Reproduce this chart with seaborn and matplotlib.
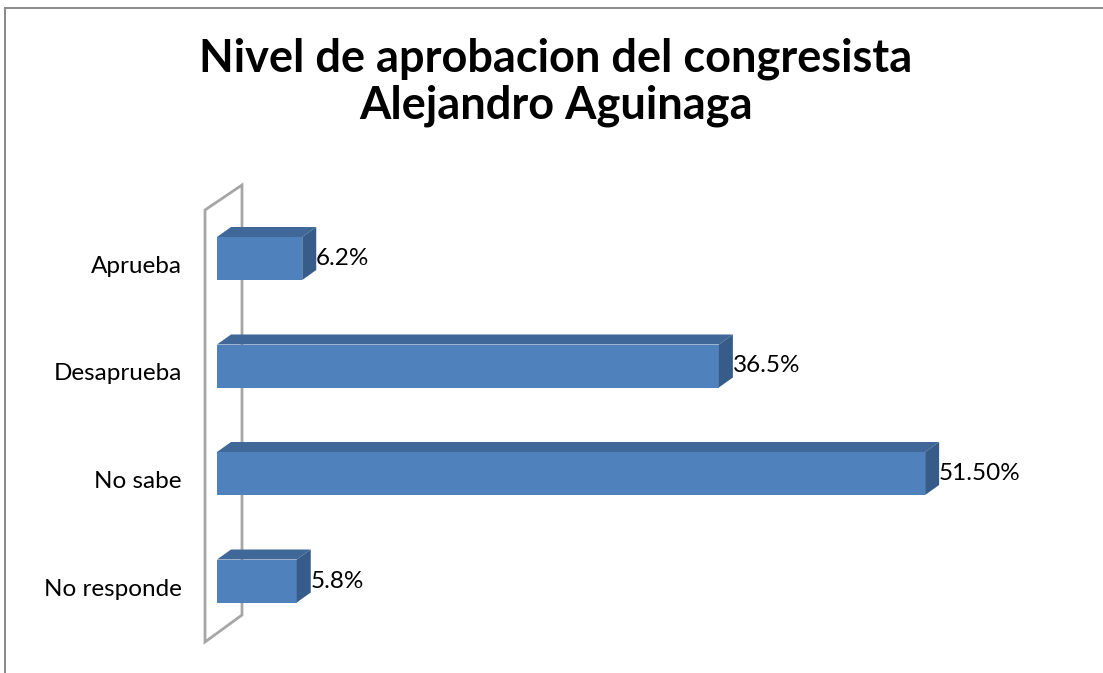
import matplotlib
matplotlib.use("Agg")
import matplotlib.pyplot as plt
import matplotlib.transforms as mtransforms
from matplotlib.patches import Polygon, Rectangle
import seaborn as sns

sns.set_theme(style="white")
plt.rcParams["font.family"] = ["Lato", "DejaVu Sans"]

CATEGORIES = ["Aprueba", "Desaprueba", "No sabe", "No responde"]
VALUES = [6.2, 36.5, 51.5, 5.8]
VALUE_LABELS = ["6.2%", "36.5%", "51.50%", "5.8%"]
TITLE = "Nivel de aprobacion del congresista\nAlejandro Aguinaga"

FRONT = "#4F81BD"
TOP = "#3F6899"
SIDE = "#375C89"

W, H, DPI = 1103, 673, 100
fig = plt.figure(figsize=(W / DPI, H / DPI), dpi=DPI)
fig.patch.set_edgecolor("none")
fig.patch.set_linewidth(0)

# plot area in pixels: x=0 at 217px, 13.75 px per %, categories 107.5 px apart
px_per_unit = 13.75
left_px, right_px = 217, 1050
top_px, bot_px = 204.75, 634.75
ax = fig.add_axes([left_px / W, 1 - bot_px / H,
                   (right_px - left_px) / W, (bot_px - top_px) / H])

sns.barplot(x=VALUES, y=CATEGORIES, orient="h", color=FRONT, saturation=1,
            width=0.4, ax=ax, zorder=3, linewidth=0)
ax.set_xlim(0, (right_px - left_px) / px_per_unit)
ax.set_ylim(len(CATEGORIES) - 0.5, -0.5)

# 3D depth of the bars
dx = 14 / px_per_unit
dy = 10 / 107.5
for p in ax.patches[:]:
    x0, y0 = p.get_x(), p.get_y()
    x1, y1 = x0 + p.get_width(), y0 + p.get_height()
    top = Polygon([(x0, y0), (x0 + dx, y0 - dy), (x1 + dx, y0 - dy), (x1, y0)],
                  closed=True, facecolor=TOP, edgecolor="none", zorder=3, clip_on=False)
    side = Polygon([(x1, y0), (x1 + dx, y0 - dy), (x1 + dx, y1 - dy), (x1, y1)],
                   closed=True, facecolor=SIDE, edgecolor="none", zorder=3, clip_on=False)
    ax.add_patch(top)
    ax.add_patch(side)

# side wall
wx0, wx1 = (205 - left_px) / px_per_unit, (242 - left_px) / px_per_unit
def py(v):
    return (v - top_px) / 107.5 - 0.5
wall = Polygon([(wx0, py(210)), (wx1, py(185)), (wx1, py(615)), (wx0, py(642))],
               closed=True, facecolor="none", edgecolor="#A6A6A6", lw=2,
               zorder=1, clip_on=False)
ax.add_patch(wall)

ax.bar_label(ax.containers[0], labels=VALUE_LABELS, padding=10, fontsize=17.5,
             color="black")

# category labels
off = mtransforms.ScaledTranslation(-35 / DPI, -8 / DPI, fig.dpi_scale_trans)
for i, cat in enumerate(CATEGORIES):
    ax.text(0, i, cat, transform=ax.transData + off, ha="right", va="center",
            fontsize=17.5, color="black")

ax.set_yticks([])
ax.set_xticks([])
ax.set_ylabel("")
ax.set_xlabel("")
for s in ax.spines.values():
    s.set_visible(False)
ax.patch.set_alpha(0)

fig.text(556 / W, 1 - 82 / H, TITLE, ha="center", va="center", fontsize=32.5,
         fontweight="bold", linespacing=1.12, color="black")

# chart frame: only the top and left edges are visible, drawn as thin filled strips
fig.add_artist(Rectangle((4 / W, 1 - 9 / H), 1.0, 2 / H, transform=fig.transFigure,
                         facecolor="#8C8C8C", edgecolor="none", lw=0))
fig.add_artist(Rectangle((4 / W, 0.0), 2 / W, 1 - 7 / H, transform=fig.transFigure,
                         facecolor="#8C8C8C", edgecolor="none", lw=0))

fig.savefig("out.png", dpi=DPI, edgecolor="none")
